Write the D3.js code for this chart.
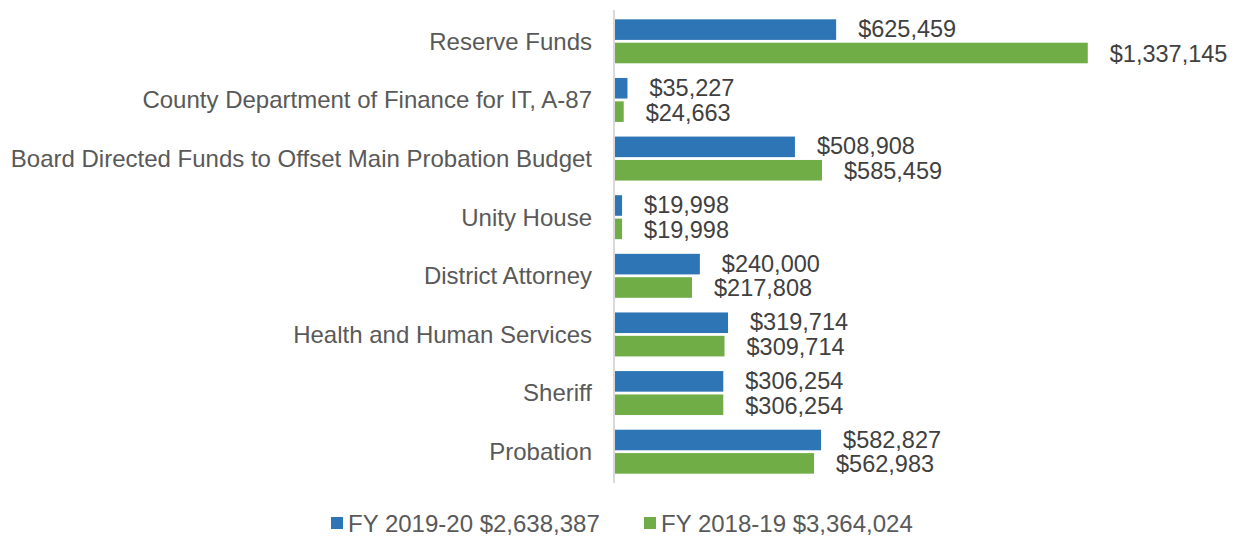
<!DOCTYPE html>
<html>
<head>
<meta charset="utf-8">
<script src="https://cdn.jsdelivr.net/npm/d3@7"></script>
<style>
  body { margin: 0; background: #fff; }
  svg { display: block; font-family: "Liberation Sans", Arial, sans-serif; }
</style>
</head>
<body>
<div id="chart"></div>
<script>
// data
const categories = [
  "Reserve Funds",
  "County Department of Finance for IT, A-87",
  "Board Directed Funds to Offset Main Probation Budget",
  "Unity House",
  "District Attorney",
  "Health and Human Services",
  "Sheriff",
  "Probation"
]
const seriesNames = ["FY 2019-20 $2,638,387", "FY 2018-19 $3,364,024"]
const fy1920 = [625459, 35227, 508908, 19998, 240000, 319714, 306254, 582827]
const fy1819 = [1337145, 24663, 585459, 19998, 217808, 309714, 306254, 562983]
const colors = ["#2E75B6", "#70AD47"]

;(function () {
  const width = 1240
  const height = 536
  const margin = { top: 12, right: 130, bottom: 55, left: 614 }

  const svg = d3.select("#chart")
    .append("svg")
    .attr("width", width)
    .attr("height", height)

  const g = svg.append("g")
    .attr("transform", `translate(${margin.left},${margin.top})`)

  const chartHeight = height - margin.top - margin.bottom

  const x = d3.scaleLinear()
    .domain([0, 1400000])
    .range([0, 495])

  const y0 = d3.scaleBand()
    .domain(categories)
    .range([0, chartHeight])
    .paddingInner(0.25)
    .paddingOuter(0.125)

  const y1 = d3.scaleBand()
    .domain([0, 1])
    .range([0, y0.bandwidth()])
    .paddingInner(0.12)

  const rows = categories.map((c, i) => ({
    cat: c,
    vals: [fy1920[i], fy1819[i]]
  }))

  // vertical axis line
  g.append("line")
    .attr("x1", 0).attr("x2", 0)
    .attr("y1", -2).attr("y2", chartHeight + 2)
    .attr("stroke", "#D9D9D9")
    .attr("stroke-width", 2)

  // category labels
  g.selectAll(".cat")
    .data(categories)
    .join("text")
    .attr("class", "cat")
    .attr("x", -22)
    .attr("y", d => y0(d) + y0.bandwidth() / 2)
    .attr("dy", "0.35em")
    .attr("text-anchor", "end")
    .style("font-size", "24px")
    .style("fill", "#595959")
    .text(d => d)

  const groups = g.selectAll(".row")
    .data(rows)
    .join("g")
    .attr("class", "row")
    .attr("transform", d => `translate(0,${y0(d.cat)})`)

  const items = d => d.vals.map((v, k) => ({ v, k }))

  groups.selectAll("rect")
    .data(items)
    .join("rect")
    .attr("x", 1)
    .attr("y", d => y1(d.k))
    .attr("width", d => x(d.v))
    .attr("height", y1.bandwidth())
    .attr("fill", d => colors[d.k])

  // value labels, nudged apart a touch so the pair doesn't collide
  groups.selectAll(".val")
    .data(items)
    .join("text")
    .attr("class", "val")
    .attr("x", d => x(d.v) + 23)
    .attr("y", d => y1(d.k) + y1.bandwidth() / 2 + (d.k === 0 ? -0.7 : 0.7))
    .attr("dy", "0.35em")
    .style("font-size", "23.5px")
    .style("fill", "#404040")
    .text(d => "$" + d3.format(",")(d.v))

  // legend
  const legendX = [331, 644]
  const legend = svg.selectAll(".legend")
    .data(seriesNames)
    .join("g")
    .attr("class", "legend")
    .attr("transform", (d, i) => `translate(${legendX[i]},517)`)

  legend.append("rect")
    .attr("width", 12)
    .attr("height", 12)
    .attr("fill", (d, i) => colors[i])

  legend.append("text")
    .attr("x", 17)
    .attr("y", 7)
    .attr("dy", "0.35em")
    .style("font-size", "24px")
    .style("fill", "#595959")
    .text(d => d)
})()
</script>
</body>
</html>
